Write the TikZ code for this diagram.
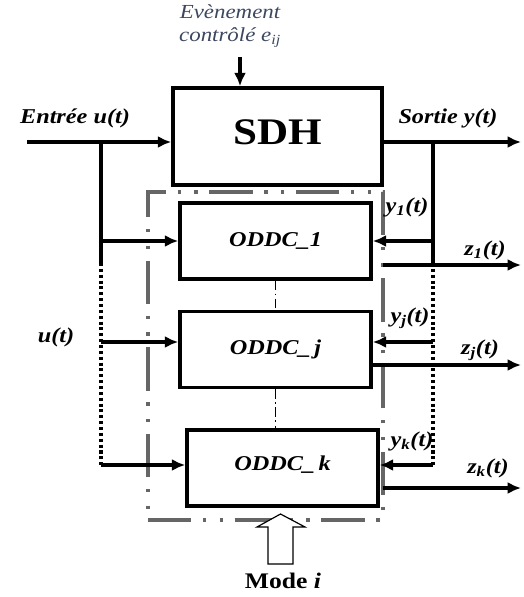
\documentclass[tikz,border=0pt]{standalone}
\usepackage{fontspec}
\setmainfont{Liberation Serif}[FakeStretch=1.15]
\usetikzlibrary{arrows.meta,positioning}
\definecolor{evtext}{RGB}{60,72,95}
\begin{document}
\begin{tikzpicture}[x=0.03cm,y=-0.03cm,>={Latex[length=4mm,width=3.6mm]},line width=3pt,
  blk/.style={draw,line width=3pt,minimum width=5.73cm,minimum height=2.28cm,inner sep=0pt,font=\fontsize{18}{20}\selectfont\bfseries\itshape},
  lbl/.style={font=\fontsize{18}{20}\selectfont\bfseries\itshape,inner sep=0pt},
  dotline/.style={dash pattern=on 2.6pt off 2.4pt},
  thindash/.style={line width=1pt,dash pattern=on 8pt off 3pt on 1.5pt off 3pt},
  modeframe/.style={draw=black!60,line width=3.2pt,minimum width=7.05cm,minimum height=9.84cm,dash pattern=on 1.3cm off 0.35cm on 0.1cm off 0.4cm on 0.1cm off 0.35cm}]
\useasboundingbox (0,0) rectangle (523,597);
% mode frame
\node[modeframe] (mode) at (265.5,356) {};
% blocks
\node[draw,line width=3pt,minimum width=6.27cm,minimum height=2.91cm,font=\fontsize{32}{34}\selectfont\bfseries] (sdh) at (277.5,136.5) {\raisebox{8pt}{SDH}};
\node[blk] (oddc1) at (275.5,241) {\raisebox{2pt}{ODDC\_1}};
\node[blk] (oddcj) at (275.5,349.5) {ODDC\_\,j};
\node[blk] (oddck) at (282.5,468) {\raisebox{9pt}{ODDC\_\,k}};
% labels
\node[font=\fontsize{17}{20}\selectfont\itshape,text=evtext,align=center,inner sep=0pt] (ev) at (230,26) {Evènement\\contrôlé e\textsubscript{ij}};
\node[lbl] (lin) at (75,118) {Entrée u(t)};
\node[lbl] (lout) at (448,118) {Sortie y(t)};
\node[lbl] (lu) at (56,337) {u(t)};
\node[lbl] (ly1) at (407,207) {y\textsubscript{1}(t)};
\node[lbl] (lyj) at (410,318) {y\textsubscript{j}(t)};
\node[lbl] (lyk) at (412,441) {y\textsubscript{k}(t)};
\node[lbl] (lz1) at (485,250) {z\textsubscript{1}(t)};
\node[lbl] (lzj) at (480,350) {z\textsubscript{j}(t)};
\node[lbl] (lzk) at (488,468) {z\textsubscript{k}(t)};
\node[font=\fontsize{19}{21}\selectfont\bfseries,inner sep=0pt] (lmode) at (283,581) {Mode \textit{i}};
% points
\coordinate (evtop) at (240,57);
\coordinate (uin) at (27,142);
\coordinate (ujn) at (101,142);
\coordinate (udot) at (101,263);
\coordinate (ucor) at (101,465);
\coordinate (yjn) at (433,142);
\coordinate (ydot) at (433,263);
\coordinate (ycor) at (433,465);
\coordinate (yend) at (521,142);
\coordinate (rowj) at (0,342);
\coordinate (z1s) at (383,265);
\coordinate (z1e) at (521,265);
\coordinate (zje) at (521,365);
\coordinate (zks) at (383,488);
\coordinate (zke) at (521,488);
% connections
\draw[->] (evtop) -- (evtop |- sdh.north);
\draw[->] (uin) -- (uin -| sdh.west);
\draw[->] (sdh.east |- yjn) -- (yend);
\draw (ujn) -- (udot);
\draw[dotline] (udot) -- (ucor);
\draw[->] (ucor) -- (ucor -| oddck.west);
\draw[->] (ujn |- oddc1.west) -- (oddc1.west);
\draw[->] (ujn |- rowj) -- (oddcj.west |- rowj);
\draw (yjn) -- (ydot);
\draw[dotline] (ydot) -- (ycor);
\draw[->] (ycor) -- (ycor -| oddck.east);
\draw[->] (yjn |- oddc1.east) -- (oddc1.east);
\draw[->] (yjn |- rowj) -- (oddcj.east |- rowj);
\draw[->] (z1s) -- (z1e);
\draw[->] (oddcj.east |- zje) -- (zje);
\draw[->] (zks) -- (zke);
\draw[thindash] (oddc1.south) -- (oddcj.north);
\draw[thindash] (oddcj.south) -- (oddck.north -| oddcj.south);
% mode arrow
\draw[line width=1pt,fill=white] (268,564) -- (268,527) -- (257,527) -- (280.5,514) -- (305,527) -- (293,527) -- (293,564) -- cycle;
\end{tikzpicture}
\end{document}
